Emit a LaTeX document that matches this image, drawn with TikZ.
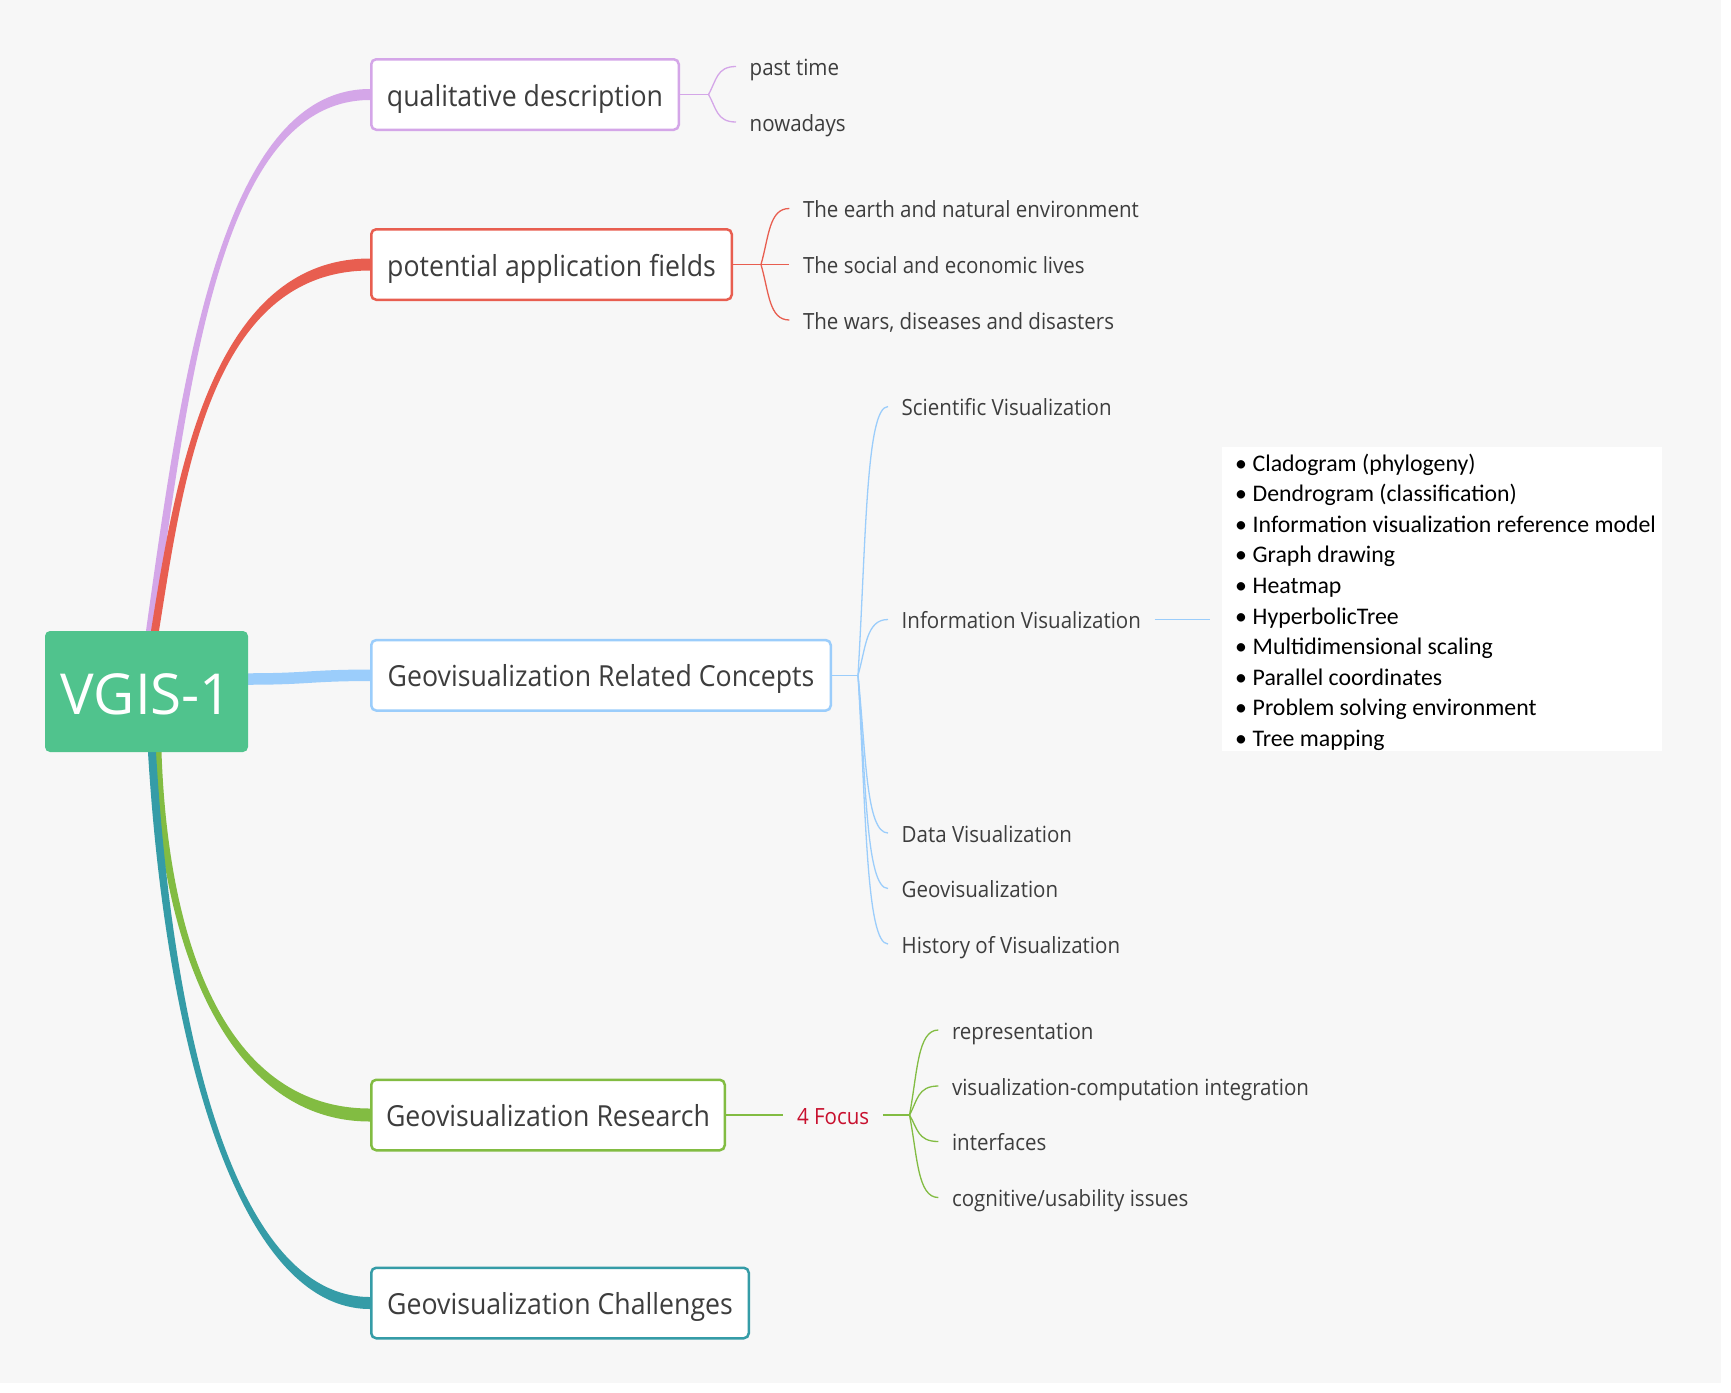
\documentclass[tikz,border=0pt]{standalone}
\usepackage{fontspec}
\usetikzlibrary{calc}
\newfontfamily\topicfont[FakeStretch=0.92]{Open Sans}
\newfontfamily\rootfont{Open Sans}
\newfontfamily\listfont{Carlito}
\definecolor{bgc}{HTML}{F7F7F7}
\definecolor{cgreen}{HTML}{50C38D}
\definecolor{purpc}{HTML}{D4A6E8}
\definecolor{redc}{HTML}{E85E50}
\definecolor{bluec}{HTML}{9BCDFB}
\definecolor{greenc}{HTML}{82BC42}
\definecolor{tealc}{HTML}{359CA7}
\definecolor{txt}{HTML}{3D3D3D}
\definecolor{focusc}{HTML}{C8102E}
\pgfdeclarelayer{back}
\pgfdeclarelayer{lines}
\pgfsetlayers{back,lines,main}
\tikzset{
  root/.style={rectangle, rounded corners=5pt, fill=cgreen, minimum width=203pt, minimum height=121pt,
    inner sep=0pt, text=white, font=\rootfont\fontsize{56.5}{60}\selectfont, text height=45pt, text depth=0pt},
  topic/.style={rectangle, rounded corners=5pt, draw=#1, line width=2.5pt, fill=white, minimum height=70.5pt,
    inner sep=0pt, anchor=west, text=txt, font=\topicfont\fontsize{29}{35}\selectfont, text height=26pt, text depth=3pt},
  sub/.style={anchor=west, inner xsep=13.5pt, inner ysep=0pt, text=txt,
    font=\topicfont\fontsize{22.3}{26}\selectfont, text height=20pt, text depth=2pt},
  item/.style={anchor=base west, inner sep=0pt, text=black, font=\listfont\fontsize{23.8}{30}\selectfont},
  twig/.style={line width=1.3pt, draw=#1},
  bracecurve/.style={to path={.. controls ($(\tikztostart)!0.5!(\tikztostart |- \tikztotarget)+(8,0)$) and ($(\tikztostart |- \tikztotarget)+(8,0)$) .. (\tikztotarget)}},
}
\begin{document}
\begin{tikzpicture}[x=1pt,y=-1pt]
\begin{pgfonlayer}{back}
\fill[white] (0,0) rectangle (1731,1392);
\fill[bgc] (0,0) rectangle (1721,1383);
\end{pgfonlayer}
\useasboundingbox (0,0) rectangle (1731,1392);

% root and topics
\node[root] (c) at (146.5,691.5) {VGIS-1};
\node[topic=purpc, minimum width=307.5pt] (q) at (370,94.5) {qualitative description};
\node[topic=redc, minimum width=360.5pt] (r) at (370,264.5) {potential application fields};
\node[topic=bluec, minimum width=459.5pt] (b) at (370,675.3) {Geovisualization Related Concepts};
\node[topic=greenc, minimum width=353.5pt] (g) at (370,1115) {Geovisualization Research};
\node[topic=tealc, minimum width=377.5pt] (t) at (370,1303) {Geovisualization Challenges};

% main branches
\coordinate (ps) at ([xshift=3.5]c.north);
\coordinate (rs) at ([xshift=8.5]c.north);
\coordinate (gs) at ([xshift=11]c.south);
\coordinate (ts) at ([xshift=5.5]c.south);
\coordinate (bs) at ([yshift=12.5]c.east);
\begin{pgfonlayer}{lines}
\fill[purpc] ([xshift=-4]ps) .. controls +(35,-250) and +(-150,0) .. ([yshift=5.5]q.west)
  -- ([yshift=-5.5]q.west) .. controls +(-150,0) and +(35,-250) .. ([xshift=4]ps) -- cycle;
\fill[redc] ([xshift=-4]rs) .. controls +(24,-150) and +(-160,0) .. ([yshift=6]r.west)
  -- ([yshift=-6]r.west) .. controls +(-160,0) and +(24,-150) .. ([xshift=4]rs) -- cycle;
\draw[bluec, line width=11.5pt] (bs) .. controls +(60,0) and +(-60,0) .. (b.west);
\fill[greenc] ([xshift=-4]gs) .. controls +(7,200) and +(-140,0) .. ([yshift=-6.5]g.west)
  -- ([yshift=6.5]g.west) .. controls +(-140,0) and +(7,200) .. ([xshift=4]gs) -- cycle;
\fill[tealc] ([xshift=-4]ts) .. controls +(18,300) and +(-130,0) .. ([yshift=-6]t.west)
  -- ([yshift=6]t.west) .. controls +(-130,0) and +(18,300) .. ([xshift=4]ts) -- cycle;
\end{pgfonlayer}

% qualitative description
\node[sub] (q1) at (736,66.5) {past time};
\node[sub] (q2) at (736,122) {nowadays};
\coordinate (qj) at ([xshift=28.5]q.east);
\draw[twig=purpc] (q.east) -- (qj);
\draw[twig=purpc] (qj) to[bracecurve] (q1.west);
\draw[twig=purpc] (qj) to[bracecurve] (q2.west);

% potential application fields
\node[sub] (r1) at (789.3,208.5) {The earth and natural environment};
\node[sub] (r2) at (789.3,264.5) {The social and economic lives};
\node[sub] (r3) at (789.3,320) {The wars, diseases and disasters};
\coordinate (rj) at ([xshift=28]r.east);
\draw[twig=redc] (r.east) -- (rj);
\draw[twig=redc] (rj) to[bracecurve] (r1.west);
\draw[twig=redc] (rj) -- (r2.west);
\draw[twig=redc] (rj) to[bracecurve] (r3.west);

% related concepts
\node[sub] (b1) at (888,406.5) {Scientific Visualization};
\node[sub] (b2) at (888,619.5) {Information Visualization};
\node[sub] (b3) at (888,833) {Data Visualization};
\node[sub] (b4) at (888,888.5) {Geovisualization};
\node[sub] (b5) at (888,944) {History of Visualization};
\coordinate (bj) at ([xshift=26]b.east);
\draw[twig=bluec] (b.east) -- (bj);
\foreach \k in {1,...,5} {\draw[twig=bluec] (bj) to[bracecurve] (b\k.west);}

% information visualization list
\node[fill=white, minimum width=440pt, minimum height=304pt, inner sep=0pt] (list) at (1442,599) {};
\draw[twig=bluec, shorten >=12pt] (b2.east) -- (b2.east -| list.west);
\node[item] (l1)  at (1235,471)   {\makebox[17.5pt][l]{\textbullet}Cladogram (phylogeny)};
\node[item] (l2)  at (1235,501.6) {\makebox[17.5pt][l]{\textbullet}Dendrogram (classification)};
\node[item] (l3)  at (1235,532.2) {\makebox[17.5pt][l]{\textbullet}Information visualization reference model};
\node[item] (l4)  at (1235,562.8) {\makebox[17.5pt][l]{\textbullet}Graph drawing};
\node[item] (l5)  at (1235,593.4) {\makebox[17.5pt][l]{\textbullet}Heatmap};
\node[item] (l6)  at (1235,624)   {\makebox[17.5pt][l]{\textbullet}HyperbolicTree};
\node[item] (l7)  at (1235,654.6) {\makebox[17.5pt][l]{\textbullet}Multidimensional scaling};
\node[item] (l8)  at (1235,685.2) {\makebox[17.5pt][l]{\textbullet}Parallel coordinates};
\node[item] (l9)  at (1235,715.8) {\makebox[17.5pt][l]{\textbullet}Problem solving environment};
\node[item] (l10) at (1235,746.4) {\makebox[17.5pt][l]{\textbullet}Tree mapping};

% research
\node[sub, text=focusc] (f) at (783.3,1115) {4 Focus};
\draw[greenc, line width=1.8pt] (g.east) -- (f.west);
\coordinate (gj) at ([xshift=26.6]f.east);
\draw[greenc, line width=2.4pt] (f.east) -- (gj);
\node[sub] (g1) at (938.3,1030) {representation};
\node[sub] (g2) at (938.3,1086) {visualization-computation integration};
\node[sub] (g3) at (938.3,1141.5) {interfaces};
\node[sub] (g4) at (938.3,1197.5) {cognitive/usability issues};
\foreach \k in {1,...,4} {\draw[twig=greenc] (gj) to[bracecurve] (g\k.west);}
\end{tikzpicture}
\end{document}
